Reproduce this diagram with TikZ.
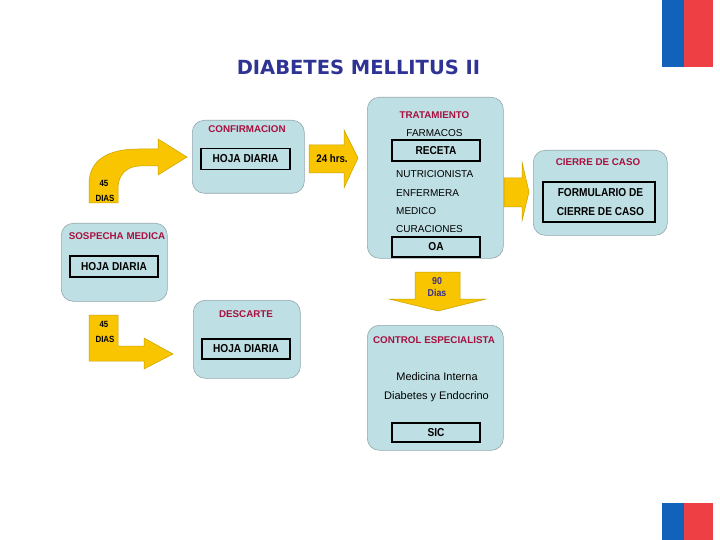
\documentclass[tikz,border=0pt]{standalone}
\usepackage{fontspec}
\setmainfont{Liberation Sans}
\newfontfamily\headfont{DejaVu Sans}
\newfontfamily\docfont[FakeStretch=0.88]{Liberation Sans}
\usetikzlibrary{positioning}
\definecolor{panelFill}{HTML}{BEDFE4}
\definecolor{panelLine}{HTML}{93A7AD}
\definecolor{headRed}{HTML}{A8103F}
\definecolor{titleBlue}{HTML}{2F3394}
\definecolor{arrowGold}{HTML}{F8C500}
\definecolor{arrowEdge}{HTML}{C9A200}
\definecolor{daysBlue}{HTML}{3A2E8C}
\definecolor{flagBlue}{HTML}{1262BC}
\definecolor{flagRed}{HTML}{EE4044}

\begin{document}
\begin{tikzpicture}[x=1pt,y=-1pt]
\tikzstyle{panel}=[draw=panelLine,fill=panelFill,rounded corners=12pt,line width=.6pt,anchor=north west,inner sep=0pt]
\tikzstyle{head}=[text=headRed,font=\fontsize{9.8}{11}\selectfont\bfseries,inner sep=0pt]
\tikzstyle{doc}=[draw=black,line width=1.1pt,fill=panelFill,minimum width=88,minimum height=21,inner sep=0pt,font=\docfont\fontsize{11.5}{13}\selectfont\bfseries]
\tikzstyle{item}=[font=\fontsize{10}{12}\selectfont,inner sep=0pt]
\tikzstyle{flow}=[fill=arrowGold,draw=arrowEdge,line width=.5pt,line join=miter]
\tikzstyle{days}=[font=\docfont\fontsize{9}{10}\selectfont\bfseries,inner sep=0pt]
\useasboundingbox (0,0) rectangle (720,540);
\fill[white] (0,0) rectangle (720,540);

% flags
\fill[flagBlue] (662,0) rectangle (684,67);
\fill[flagRed] (684,0) rectangle (713,67);
\fill[flagBlue] (662,503) rectangle (684,540);
\fill[flagRed] (684,503) rectangle (713,540);

\node[font=\headfont\fontsize{19.5}{22}\selectfont\bfseries,text=titleBlue] (title) at (358.5,67.5) {DIABETES MELLITUS II};

% panels
\node[panel,minimum width=106,minimum height=78] (sosp) at (61,223) {};
\node[panel,minimum width=112,minimum height=73] (conf) at (192,120) {};
\node[panel,minimum width=107,minimum height=78] (desc) at (193,300) {};
\node[panel,minimum width=136,minimum height=161] (trat) at (367,97) {};
\node[panel,minimum width=134,minimum height=85] (cier) at (533,150) {};
\node[panel,minimum width=136,minimum height=125] (ctrl) at (367,325) {};

\node[head] (sospT) at (117,236) {SOSPECHA MEDICA};
\node[doc] (sospD) at (114,266.5) {HOJA DIARIA};

\node[head] (confT) at (247,129) {CONFIRMACION};
\node[doc,minimum width=89] (confD) at (245.5,159) {HOJA DIARIA};

\node[head] (descT) at (246,314.5) {DESCARTE};
\node[doc,minimum height=20] (descD) at (246,349) {HOJA DIARIA};

\node[head] (tratT) at (434.5,115) {TRATAMIENTO};
\node[item] (farm) at (434.5,133) {FARMACOS};
\node[doc] (rece) at (436,150.5) {RECETA};
\node[item,anchor=west] (nutr) at (396,174) {NUTRICIONISTA};
\node[item,anchor=west] (enfe) at (396,193) {ENFERMERA};
\node[item,anchor=west] (medi) at (396,211) {MEDICO};
\node[item,anchor=west] (cura) at (396,229) {CURACIONES};
\node[doc,minimum height=20] (oa) at (436,247) {OA};

\node[head] (cierT) at (598,162.5) {CIERRE DE CASO};
\node[doc,minimum width=112,minimum height=40,align=center,font=\docfont\fontsize{11.5}{18.5}\selectfont\bfseries] (cierD) at (599,202) {\hspace{3pt}FORMULARIO DE\\\hspace{3pt}CIERRE DE CASO};

\node[head] (ctrlT) at (434,340) {CONTROL ESPECIALISTA};
\node[item,font=\fontsize{11}{13}\selectfont] (mint) at (437,377) {Medicina Interna};
\node[item,font=\fontsize{11}{13}\selectfont] (diab) at (436.5,397) {Diabetes y Endocrino};
\node[doc,minimum height=19] (sic) at (436,432.5) {SIC};

% block arrows
\draw[flow] (89,203) -- (89,184) .. controls (89,160) and (108,149) .. (138,149)
  -- (158,149) -- (158,139) -- (187,157) -- (158,175) -- (158,166) -- (140,166)
  .. controls (127,166) and (118,175) .. (118,188) -- (118,203) -- cycle;
\node[days] (d45a) at (104,183) {45};
\node[days] (d45b) at (105,198) {DIAS};

\draw[flow] (89,315) -- (118,315) -- (118,346) -- (144,346) -- (144,338) -- (173,354)
  -- (144,369) -- (144,361) -- (89,361) -- cycle;
\node[days] (d45c) at (104,324) {45};
\node[days] (d45d) at (105,339) {DIAS};

\draw[flow] (309,145) -- (344,145) -- (344,130) -- (358,158) -- (344,188) -- (344,173) -- (309,173) -- cycle;
\node[font=\docfont\fontsize{11}{12}\selectfont\bfseries,inner sep=0pt] (h24) at (332,159) {24 hrs.};

\draw[flow] (504,178) -- (522,178) -- (522,162) -- (529,192) -- (522,221) -- (522,207) -- (504,207) -- cycle;

\draw[flow] (415,272) -- (460,272) -- (460,299) -- (486,299) -- (438,311) -- (389,299) -- (415,299) -- cycle;
\node[font=\docfont\fontsize{10}{11}\selectfont\bfseries,text=daysBlue,inner sep=0pt] (d90a) at (437,281) {90};
\node[font=\docfont\fontsize{10}{11}\selectfont\bfseries,text=daysBlue,inner sep=0pt] (d90b) at (437,292.5) {Dias};
\end{tikzpicture}
\end{document}
